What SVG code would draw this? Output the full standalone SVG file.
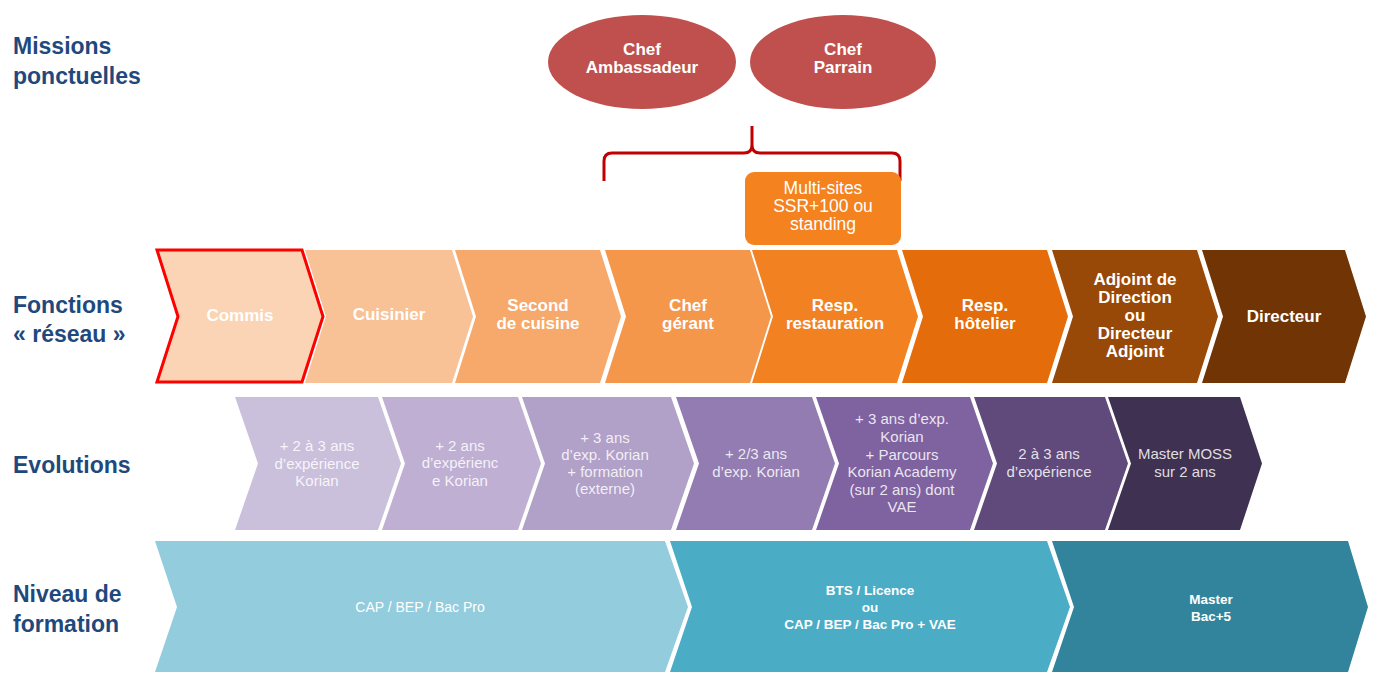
<svg xmlns="http://www.w3.org/2000/svg" width="1375" height="673" viewBox="0 0 1375 673">
<style>
.lbl{font-family:"Liberation Sans",Arial,sans-serif;font-weight:bold;font-size:23px;fill:#1F497D}
.fn{font-family:"Liberation Sans",Arial,sans-serif;font-weight:bold;font-size:17px;fill:#FFFFFF;text-anchor:middle}
.ev{font-family:"Liberation Sans",Arial,sans-serif;font-size:15px;fill:#FFFFFF;fill-opacity:0.85;text-anchor:middle}
.nv{font-family:"Liberation Sans",Arial,sans-serif;font-size:14px;fill:#FFFFFF;text-anchor:middle}
.nvb{font-family:"Liberation Sans",Arial,sans-serif;font-weight:bold;font-size:13.5px;fill:#FFFFFF;text-anchor:middle}
.ms{font-family:"Liberation Sans",Arial,sans-serif;font-size:17.5px;fill:#FFFFFF;text-anchor:middle}
</style>
<rect width="1375" height="673" fill="#FFFFFF"/>

<g id="labels">
<text class="lbl" x="13" y="54">Missions</text>
<text class="lbl" x="13" y="84">ponctuelles</text>
<text class="lbl" x="13" y="313">Fonctions</text>
<text class="lbl" x="13" y="342">« réseau »</text>
<text class="lbl" x="13" y="473">Evolutions</text>
<text class="lbl" x="13" y="602">Niveau de</text>
<text class="lbl" x="13" y="632">formation</text>
</g>

<g id="mission-ambassadeur">
<ellipse cx="642" cy="62" rx="94" ry="47" fill="#C0504D"/>
<text class="fn" x="642" y="55">Chef</text>
<text class="fn" x="642" y="73">Ambassadeur</text>
</g>
<g id="mission-parrain">
<ellipse cx="843" cy="62" rx="93" ry="47" fill="#C0504D"/>
<text class="fn" x="843" y="55">Chef</text>
<text class="fn" x="843" y="73">Parrain</text>
</g>

<g id="connectors">
<path d="M604,181 V161 Q604,153 612,153 H744 Q752,153 752,145 V126 M752,145 Q752,153 760,153 H892 Q900,153 900,161 V181" fill="none" stroke="#C00000" stroke-width="3"/>
</g>

<g id="multisites">
<rect x="745" y="172" width="156" height="73" rx="9" fill="#F3821F"/>
<text class="ms" x="823" y="194">Multi-sites</text>
<text class="ms" x="823" y="212">SSR+100 ou</text>
<text class="ms" x="823" y="230">standing</text>
</g>

<g id="f-commis">
<polygon points="157,250 302,250 323,316.5 302,382 157,382 178,316.5" fill="#FAD4B5" stroke="#FF0000" stroke-width="3"/>
<text class="fn" x="240" y="321">Commis</text>
</g>
<g id="f-cuisinier">
<polygon points="305,250 452,250 473,316.5 452,383 305,383 326,316.5" fill="#F8C196"/>
<text class="fn" x="389" y="320">Cuisinier</text>
</g>
<g id="f-second">
<polygon points="455,250 600,250 621,316.5 600,383 455,383 476,316.5" fill="#F6A96A"/>
<text class="fn" x="538" y="311">Second</text>
<text class="fn" x="538" y="329">de cuisine</text>
</g>
<g id="f-chef">
<polygon points="605,250 750,250 771,316.5 750,383 605,383 626,316.5" fill="#F5974A"/>
<text class="fn" x="688" y="311">Chef</text>
<text class="fn" x="688" y="329">gérant</text>
</g>
<g id="f-resp-rest">
<polygon points="752,250 897,250 918,316.5 897,383 752,383 773,316.5" fill="#F28122"/>
<text class="fn" x="835" y="311">Resp.</text>
<text class="fn" x="835" y="329">restauration</text>
</g>
<g id="f-resp-hot">
<polygon points="902,250 1047,250 1068,316.5 1047,383 902,383 923,316.5" fill="#E46C0A"/>
<text class="fn" x="985" y="311">Resp.</text>
<text class="fn" x="985" y="329">hôtelier</text>
</g>
<g id="f-adjoint">
<polygon points="1052,250 1197,250 1218,316.5 1197,383 1052,383 1073,316.5" fill="#984807"/>
<text class="fn" x="1135" y="285">Adjoint de</text>
<text class="fn" x="1135" y="303">Direction</text>
<text class="fn" x="1135" y="321">ou</text>
<text class="fn" x="1135" y="339">Directeur</text>
<text class="fn" x="1135" y="357">Adjoint</text>
</g>
<g id="f-directeur">
<polygon points="1202,250 1345,250 1366,316.5 1345,383 1202,383 1223,316.5" fill="#713505"/>
<text class="fn" x="1284" y="322">Directeur</text>
</g>

<g id="e-1">
<polygon points="235,397 378,397 401,463.5 378,530 235,530 258,463.5" fill="#CBC0DC"/>
<text class="ev" x="317" y="451">+ 2 à 3 ans</text>
<text class="ev" x="317" y="469">d’expérience</text>
<text class="ev" x="317" y="486">Korian</text>
</g>
<g id="e-2">
<polygon points="382,397 518,397 541,463.5 518,530 382,530 405,463.5" fill="#BFB0D3"/>
<text class="ev" x="460" y="451">+ 2 ans</text>
<text class="ev" x="460" y="468">d’expérienc</text>
<text class="ev" x="460" y="486">e Korian</text>
</g>
<g id="e-3">
<polygon points="522,397 671,397 694,463.5 671,530 522,530 545,463.5" fill="#B1A0C7"/>
<text class="ev" x="605" y="443">+ 3 ans</text>
<text class="ev" x="605" y="460">d’exp. Korian</text>
<text class="ev" x="605" y="477">+ formation</text>
<text class="ev" x="605" y="494">(externe)</text>
</g>
<g id="e-4">
<polygon points="676,397 812,397 835,463.5 812,530 676,530 699,463.5" fill="#927CB1"/>
<text class="ev" x="756" y="459">+ 2/3 ans</text>
<text class="ev" x="756" y="477">d’exp. Korian</text>
</g>
<g id="e-5">
<polygon points="816,397 970,397 993,463.5 970,530 816,530 839,463.5" fill="#7F63A1"/>
<text class="ev" x="902" y="424">+ 3 ans d’exp.</text>
<text class="ev" x="902" y="442">Korian</text>
<text class="ev" x="902" y="460">+ Parcours</text>
<text class="ev" x="902" y="477">Korian Academy</text>
<text class="ev" x="902" y="495">(sur 2 ans) dont</text>
<text class="ev" x="902" y="512">VAE</text>
</g>
<g id="e-6">
<polygon points="974,397 1105,397 1128,463.5 1105,530 974,530 997,463.5" fill="#604A7B"/>
<text class="ev" x="1049" y="459">2 à 3 ans</text>
<text class="ev" x="1049" y="477">d’expérience</text>
</g>
<g id="e-7">
<polygon points="1108,397 1240,397 1262,463.5 1240,530 1108,530 1131,463.5" fill="#3F3151"/>
<text class="ev" x="1185" y="459">Master MOSS</text>
<text class="ev" x="1185" y="477">sur 2 ans</text>
</g>

<g id="n-1">
<polygon points="155,541 665,541 688,607 665,672 155,672 177,607" fill="#93CDDD"/>
<text class="nv" x="420" y="612">CAP / BEP / Bac Pro</text>
</g>
<g id="n-2">
<polygon points="670,541 1047,541 1070,607 1047,672 670,672 692,607" fill="#4BACC6"/>
<text class="nvb" x="870" y="595">BTS / Licence</text>
<text class="nvb" x="870" y="612">ou</text>
<text class="nvb" x="870" y="629">CAP / BEP / Bac Pro + VAE</text>
</g>
<g id="n-3">
<polygon points="1052,541 1348,541 1368,607 1348,672 1052,672 1074,607" fill="#31849B"/>
<text class="nvb" x="1211" y="604">Master</text>
<text class="nvb" x="1211" y="621">Bac+5</text>
</g>
</svg>
